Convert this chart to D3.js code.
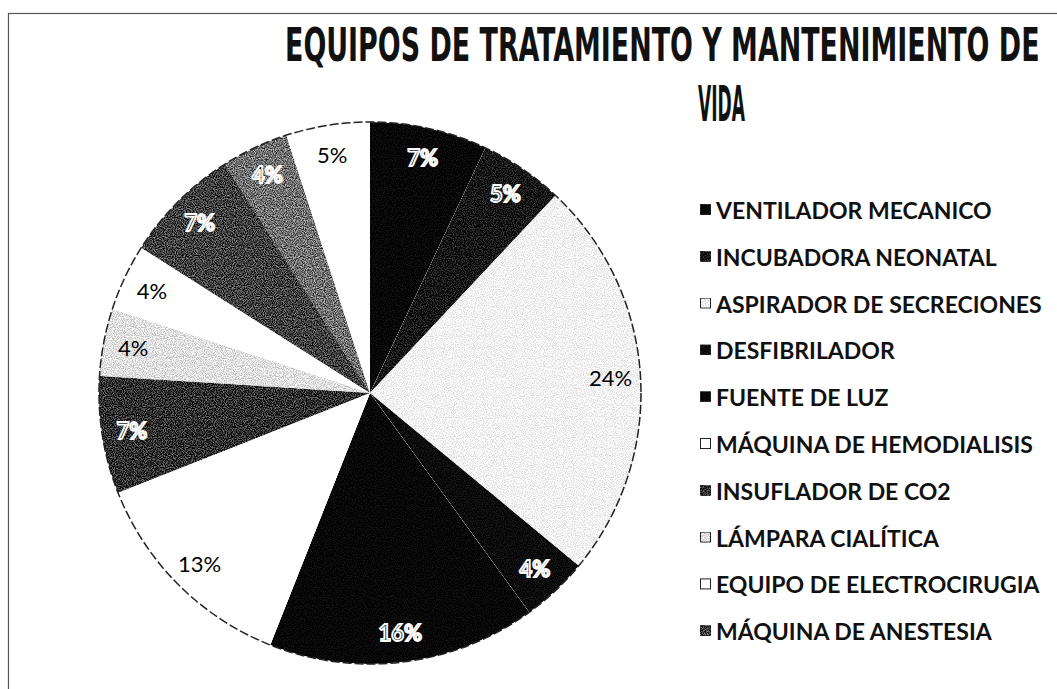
<!DOCTYPE html>
<html>
<head>
<meta charset="utf-8">
<script src="https://cdn.jsdelivr.net/npm/d3@7/dist/d3.min.js"></script>
<style>
  html, body { margin: 0; padding: 0; background: #fff; }
  svg { display: block; }
</style>
</head>
<body>
<svg id="chart" width="1057" height="689"></svg>
<script>
// Equipment categories shown in the legend
const categories = [
  "VENTILADOR MECANICO",
  "INCUBADORA NEONATAL",
  "ASPIRADOR DE SECRECIONES",
  "DESFIBRILADOR",
  "FUENTE DE LUZ",
  "MÁQUINA DE HEMODIALISIS",
  "INSUFLADOR DE CO2",
  "LÁMPARA CIALÍTICA",
  "EQUIPO DE ELECTROCIRUGIA",
  "MÁQUINA DE ANESTESIA"
];
// Percentage share of each slice, clockwise from 12 o'clock
// (the last two slices have no legend entry)
const values = [7, 5, 24, 4, 16, 13, 7, 4, 4, 7, 4, 5];
const titleLines = ["EQUIPOS DE TRATAMIENTO Y MANTENIMIENTO DE", "VIDA"];

// Grey-scale fills, grain strength and label style per slice
const fills = ["#060606", "#141414", "#f3f3f3", "#0b0b0b", "#070707", "#ffffff",
               "#2c2c2c", "#e2e2e2", "#ffffff", "#3e3e3e", "#707070", "#ffffff"];
const grain = [0.12, 0.3, 0.18, 0.12, 0.1, 0, 0.55, 0.3, 0, 0.55, 0.6, 0];
const outlined = [true, true, false, true, true, false, true, false, false, true, true, false];

const svg = d3.select("#chart");
const defs = svg.append("defs");

// speckle texture: turbulence noise added to the shape's own colour
function grainFilter(id, amp) {
  const f = defs.append("filter").attr("id", id)
    .attr("x", 0).attr("y", 0).attr("width", 1).attr("height", 1)
    .attr("color-interpolation-filters", "sRGB");
  f.append("feTurbulence").attr("type", "fractalNoise")
    .attr("baseFrequency", 0.9).attr("numOctaves", 1).attr("seed", 7).attr("result", "noise");
  f.append("feColorMatrix").attr("in", "noise").attr("type", "matrix")
    .attr("values", "3 0 0 0 -1  3 0 0 0 -1  3 0 0 0 -1  0 0 0 0 1").attr("result", "grey");
  f.append("feComposite").attr("in", "SourceGraphic").attr("in2", "grey")
    .attr("operator", "arithmetic")
    .attr("k1", 0).attr("k2", 1).attr("k3", amp).attr("k4", -amp / 2).attr("result", "mix");
  f.append("feComposite").attr("in", "mix").attr("in2", "SourceGraphic").attr("operator", "in");
  return `url(#${id})`;
}
const filterFor = grain.map((a, i) => a > 0 ? grainFilter("grain" + i, a) : null);

// chart frame
svg.append("rect")
  .attr("x", 8.5).attr("y", 13.5)
  .attr("width", 1100).attr("height", 720)
  .attr("fill", "none").attr("stroke", "#555").attr("stroke-width", 1.2);

// title, squeezed horizontally into its measured span
const titleFont = "'Liberation Sans Narrow', 'DejaVu Sans Condensed', 'Roboto', 'DejaVu Sans', sans-serif";
function fitText(x, y, width, size, str) {
  const t = svg.append("text")
    .attr("font-family", titleFont).attr("font-weight", "bold").attr("font-size", size)
    .attr("fill", "#111").text(str);
  const w = t.node().getComputedTextLength();
  t.attr("transform", `translate(${x},${y}) scale(${width / w},1)`);
  return t;
}
fitText(285, 61, 755, 47, titleLines[0]);
fitText(698, 121, 47, 49, titleLines[1]);

// pie
const cx = 370, cy = 393, radius = 271;
const pie = d3.pie().sort(null).value(d => d.value);
const slices = pie(values.map((v, i) => ({ value: v, name: categories[i] || null, i })));
const arc = d3.arc().innerRadius(0).outerRadius(radius);
const labelArc = d3.arc().innerRadius(241).outerRadius(241);

const g = svg.append("g").attr("transform", `translate(${cx},${cy})`);

g.selectAll("path.slice")
  .data(slices)
  .join("path")
  .attr("class", "slice")
  .attr("d", arc)
  .attr("fill", d => fills[d.data.i])
  .attr("filter", d => filterFor[d.data.i]);

// outer rim of the pie
g.append("circle")
  .attr("r", radius)
  .attr("fill", "none")
  .attr("stroke", "#222")
  .attr("stroke-width", 1.5)
  .attr("stroke-dasharray", "9,3");

// percentage labels
const labelFont = "Lato, 'Open Sans', 'Noto Sans', sans-serif";
g.selectAll("text.pct")
  .data(slices)
  .join("text")
  .attr("class", "pct")
  .attr("x", d => labelArc.centroid(d)[0])
  .attr("y", d => labelArc.centroid(d)[1])
  .attr("text-anchor", "middle")
  .attr("dominant-baseline", "central")
  .attr("font-family", labelFont)
  .attr("font-size", 22)
  .attr("fill", "#000")
  .attr("stroke", d => outlined[d.data.i] ? "#fff" : "none")
  .attr("stroke-width", d => outlined[d.data.i] ? 1.8 : 0)
  .attr("font-weight", d => outlined[d.data.i] ? "bold" : "normal")
  .text(d => d.data.value + "%");

// legend
const legendY = d3.scaleLinear().domain([0, 1]).range([210, 256.8]);
const legend = svg.append("g");
const items = legend.selectAll("g.item")
  .data(categories)
  .join("g")
  .attr("class", "item")
  .attr("transform", (d, i) => `translate(700,${legendY(i)})`);

items.append("rect")
  .attr("x", 0.5).attr("y", -5.5)
  .attr("width", 10).attr("height", 10)
  .attr("fill", (d, i) => fills[i])
  .attr("filter", (d, i) => filterFor[i])
  .attr("stroke", "#222").attr("stroke-width", 1);

items.append("text")
  .attr("x", 16).attr("y", 0)
  .attr("dominant-baseline", "central")
  .attr("font-family", labelFont)
  .attr("font-weight", "bold")
  .attr("font-size", 23)
  .attr("fill", "#111")
  .text(d => d);
</script>
</body>
</html>
